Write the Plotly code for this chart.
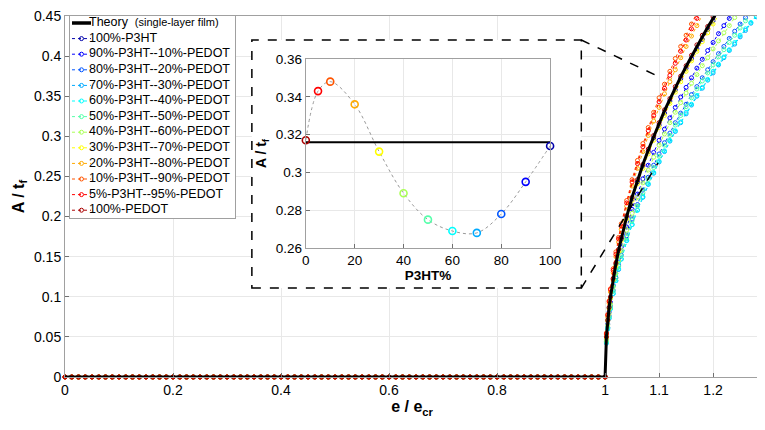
import plotly.graph_objects as go

# sample positions (e / e_cr) before and after buckling
pre_x = [0, 0.0125, 0.025, 0.0375, 0.05, 0.0625, 0.075, 0.0875, 0.1, 0.1125, 0.125, 0.1375,
         0.15, 0.1625, 0.175, 0.1875, 0.2, 0.2125, 0.225, 0.2375, 0.25, 0.2625, 0.275, 0.2875,
         0.3, 0.3125, 0.325, 0.3375, 0.35, 0.3625, 0.375, 0.3875, 0.4, 0.4125, 0.425, 0.4375,
         0.45, 0.4625, 0.475, 0.4875, 0.5, 0.5125, 0.525, 0.5375, 0.55, 0.5625, 0.575, 0.5875,
         0.6, 0.6125, 0.625, 0.6375, 0.65, 0.6625, 0.675, 0.6875, 0.7, 0.7125, 0.725, 0.7375,
         0.75, 0.7625, 0.775, 0.7875, 0.8, 0.8125, 0.825, 0.8375, 0.85, 0.8625, 0.875, 0.8875,
         0.9, 0.9125, 0.925, 0.9375, 0.95, 0.9625, 0.975, 0.9875]
pre_y = [0] * len(pre_x)
post_x = [1.0, 1.0025, 1.005, 1.0075, 1.01, 1.015, 1.02, 1.025, 1.03, 1.04, 1.05, 1.06,
          1.07, 1.08, 1.09, 1.10, 1.11, 1.12, 1.13, 1.14, 1.15, 1.16, 1.17, 1.18, 1.19,
          1.20, 1.21, 1.22, 1.23, 1.24, 1.25, 1.26, 1.27, 1.28]

theory_y = [0, .050, .071, .087, .100, .122, .141, .158, .173, .200, .224, .245, .265, .283,
            .300, .316, .332, .346, .361, .374, .387, .400, .412, .424, .436, .447, .458]

series_names = ["100%-P3HT", "90%-P3HT--10%-PEDOT", "80%-P3HT--20%-PEDOT", "70%-P3HT--30%-PEDOT",
                "60%-P3HT--40%-PEDOT", "50%-P3HT--50%-PEDOT", "40%-P3HT--60%-PEDOT",
                "30%-P3HT--70%-PEDOT", "20%-P3HT--80%-PEDOT", "10%-P3HT--90%-PEDOT",
                "5%-P3HT--95%-PEDOT", "100%-PEDOT"]
series_colors = ["#0000AA", "#0000FF", "#0055FF", "#00AAFF", "#00FFFF", "#55FFAA",
                 "#AAFF55", "#FFFF00", "#FFAA00", "#FF5500", "#FF0000", "#AA0000"]

p100 = [0, .050, .070, .086, .099, .122, .140, .157, .172, .199, .222, .243, .263, .281, .298,
        .314, .329, .344, .358, .372, .385, .397, .409, .421, .433, .444, .455]
p90 = [0, .047, .066, .081, .093, .114, .132, .148, .162, .187, .209, .228, .247, .264, .280,
       .295, .309, .323, .336, .349, .361, .373, .385, .396, .407, .417, .428, .438, .447, .457]
p80 = [0, .044, .062, .076, .088, .108, .124, .139, .152, .176, .197, .215, .233, .249, .264,
       .278, .292, .304, .317, .329, .340, .352, .362, .373, .383, .393, .403, .412, .422, .431,
       .440, .448, .457]
p70 = [0, .042, .060, .073, .085, .104, .120, .134, .147, .170, .190, .208, .224, .240, .254,
       .268, .281, .294, .306, .317, .328, .339, .350, .360, .370, .379, .389, .398, .407, .415,
       .424, .432, .441, .449]
p60 = [0, .043, .060, .074, .085, .104, .120, .135, .147, .170, .190, .208, .225, .241, .255,
       .269, .282, .295, .307, .318, .330, .340, .351, .361, .371, .381, .390, .399, .408, .417,
       .426, .434, .442, .450]
p50 = [0, .044, .062, .075, .087, .107, .123, .138, .151, .174, .195, .213, .230, .246, .261,
       .275, .289, .301, .314, .326, .337, .348, .359, .369, .379, .389, .399, .408, .417, .426,
       .435, .444, .452]
p40 = [0, .046, .065, .079, .091, .112, .129, .145, .158, .183, .204, .224, .242, .258, .274,
       .289, .303, .317, .330, .342, .354, .366, .377, .388, .398, .409, .419, .429, .438, .448,
       .457]
p30 = [0, .049, .070, .085, .098, .121, .139, .156, .170, .197, .220, .241, .260, .278, .295,
       .311, .326, .341, .355, .368, .381, .394, .406, .418, .429, .440, .451]
p20 = [0, .053, .075, .092, .106, .130, .150, .168, .184, .213, .238, .260, .281, .301, .319,
       .336, .353, .368, .383, .398, .412, .425, .438, .451]
p10 = [0, .055, .078, .095, .110, .135, .156, .174, .191, .220, .246, .270, .291, .311, .330,
       .348, .365, .381, .397, .412, .426, .440, .454]
p5 = [0, .054, .077, .094, .109, .133, .153, .172, .188, .217, .243, .266, .287, .307, .326,
      .343, .360, .376, .391, .406, .420, .434, .447, .460]
p0 = [0, .050, .071, .087, .100, .123, .142, .159, .174, .201, .224, .246, .265, .284, .301,
      .317, .333, .347, .362, .375, .388, .401, .414, .426, .437, .449, .460]
series_post = [p100, p90, p80, p70, p60, p50, p40, p30, p20, p10, p5, p0]

# inset: A/t_f at e/e_cr = 1.1 versus P3HT content
inset_pct = [100, 90, 80, 70, 60, 50, 40, 30, 20, 10, 5, 0]
inset_amp = [0.314, 0.295, 0.278, 0.268, 0.269, 0.275, 0.289, 0.311, 0.336, 0.348, 0.343, 0.317]
inset_theory_x = [0, 100]
inset_theory_y = [0.316, 0.316]

xtick_vals = [0, 0.2, 0.4, 0.6, 0.8, 1, 1.1, 1.2]
ytick_vals = [0, 0.05, 0.1, 0.15, 0.2, 0.25, 0.3, 0.35, 0.4, 0.45]

FONT = "Liberation Sans, Arial, sans-serif"

fig = go.Figure()

for name, col, post in zip(series_names, series_colors, series_post):
    line = dict(color=col, width=1, dash="dot")
    mk = dict(symbol="circle-open", size=4, color=col, line=dict(width=1))
    # flat (unbuckled) part: markers left unclipped so they sit fully on the axis
    fig.add_trace(go.Scatter(x=pre_x + [post_x[0]], y=pre_y + [post[0]], mode="lines+markers",
                             line=line, marker=mk, cliponaxis=False, showlegend=False))
    fig.add_trace(go.Scatter(x=post_x[:len(post)], y=post, mode="lines+markers",
                             line=line, marker=mk, showlegend=False))

fig.add_trace(go.Scatter(
    x=[0] + post_x[:len(theory_y)], y=[0] + theory_y, mode="lines",
    line=dict(color="black", width=3), showlegend=False))

# inset
fig.add_trace(go.Scatter(
    x=inset_pct, y=inset_amp, mode="lines", line=dict(color="#999999", width=1, dash="dot", shape="spline"),
    xaxis="x2", yaxis="y2", showlegend=False))
fig.add_trace(go.Scatter(
    x=inset_theory_x, y=inset_theory_y, mode="lines", line=dict(color="black", width=2),
    xaxis="x2", yaxis="y2", showlegend=False))
fig.add_trace(go.Scatter(
    x=inset_pct, y=inset_amp, mode="markers",
    marker=dict(symbol="circle-open", size=7, color=series_colors, line=dict(width=1.6)),
    xaxis="x2", yaxis="y2", showlegend=False, cliponaxis=False))

# hand-built legend (MATLAB packs rows tighter than plotly's legend allows)
rows = [7 + 15.6 * i for i in range(len(series_names) + 1)]
fig.add_trace(go.Scatter(x=[2, 21], y=[rows[0], rows[0]], mode="lines",
                         line=dict(color="black", width=3.5), xaxis="x3", yaxis="y3",
                         showlegend=False, hoverinfo="skip"))
for i, col in enumerate(series_colors):
    r = rows[i + 1]
    fig.add_trace(go.Scatter(x=[2, 21], y=[r, r], mode="lines",
                             line=dict(color=col, width=1, dash="dot"), xaxis="x3", yaxis="y3",
                             showlegend=False, hoverinfo="skip"))
fig.add_trace(go.Scatter(x=[11.5] * len(series_colors), y=rows[1:], mode="markers",
                         marker=dict(symbol="circle-open", size=4, color=series_colors, line=dict(width=1)),
                         xaxis="x3", yaxis="y3", showlegend=False, hoverinfo="skip"))
legend_text = ["Theory  <span style='font-size:11px'>(single-layer film)</span>"] + series_names
fig.add_trace(go.Scatter(x=[19] * len(legend_text), y=rows, mode="text", text=legend_text,
                         textposition="middle right", textfont=dict(size=12.5, family=FONT, color="black"),
                         xaxis="x3", yaxis="y3", showlegend=False, hoverinfo="skip", cliponaxis=False))

axis_common = dict(showgrid=True, gridcolor="#e8e8e8", showline=True, linecolor="#a0a0a0",
                   mirror=True, ticks="inside", ticklen=4, tickcolor="#707070", zeroline=False,
                   automargin=False)

# the page body adds an 8px offset, so margins are shifted to land the axes where the original has them
fig.update_layout(
    width=765, height=430,
    margin=dict(l=57, r=14, t=8, b=61),
    paper_bgcolor="white", plot_bgcolor="white",
    font=dict(family=FONT, color="black"),
    showlegend=False,
    xaxis=dict(range=[0, 1.285], tickvals=xtick_vals, ticktext=[f"{v:g}" for v in xtick_vals],
               tickfont=dict(size=14),
               title=dict(text="<b>e / e<sub>cr</sub></b>", font=dict(size=16), standoff=4),
               **axis_common),
    yaxis=dict(range=[0, 0.45], tickvals=ytick_vals, ticktext=[f"{v:g}" for v in ytick_vals],
               tickfont=dict(size=14), ticklabeloverflow="allow",
               title=dict(text="<b>A / t<sub>f</sub></b>", font=dict(size=16), standoff=5),
               **axis_common),
    xaxis2=dict(domain=[0.347, 0.699], anchor="y2", range=[0, 100], dtick=20,
                tickfont=dict(size=13.5),
                title=dict(text="<b>P3HT%</b>", font=dict(size=13.5), standoff=2),
                **axis_common),
    yaxis2=dict(domain=[0.3573, 0.881], anchor="x2", range=[0.26, 0.36],
                tickvals=[0.26, 0.28, 0.3, 0.32, 0.34, 0.36],
                ticktext=["0.26", "0.28", "0.3", "0.32", "0.34", "0.36"],
                tickfont=dict(size=13.5),
                title=dict(text="<b>A / t<sub>f</sub></b>", font=dict(size=14), standoff=5),
                **axis_common),
    xaxis3=dict(domain=[0.0072, 0.245], anchor="y3", range=[0, 165], showgrid=False,
                showticklabels=False, ticks="", zeroline=False, showline=True, mirror=True,
                linecolor="#a0a0a0", fixedrange=True, automargin=False),
    yaxis3=dict(domain=[0.4404, 1.0], anchor="x3", range=[202, 0], showgrid=False,
                showticklabels=False, ticks="", zeroline=False, showline=True, mirror=True,
                linecolor="#a0a0a0", fixedrange=True, automargin=False),
    shapes=[
        # inset frame, drawn above the main grid but under the inset axes
        dict(type="rect", xref="x", yref="y", x0=0.346, x1=0.956, y0=0.1109, y1=0.4201,
             fillcolor="white", line=dict(color="black", width=1.5, dash="dash"), layer="between"),
        dict(type="line", xref="x", yref="y", x0=0.956, y0=0.4201, x1=1.093, y1=0.3765,
             line=dict(color="black", width=1.5, dash="dash")),
        dict(type="line", xref="x", yref="y", x0=0.956, y0=0.1109, x1=1.098, y1=0.2668,
             line=dict(color="black", width=1.5, dash="dash")),
    ],
)

fig.write_html("out.html")
